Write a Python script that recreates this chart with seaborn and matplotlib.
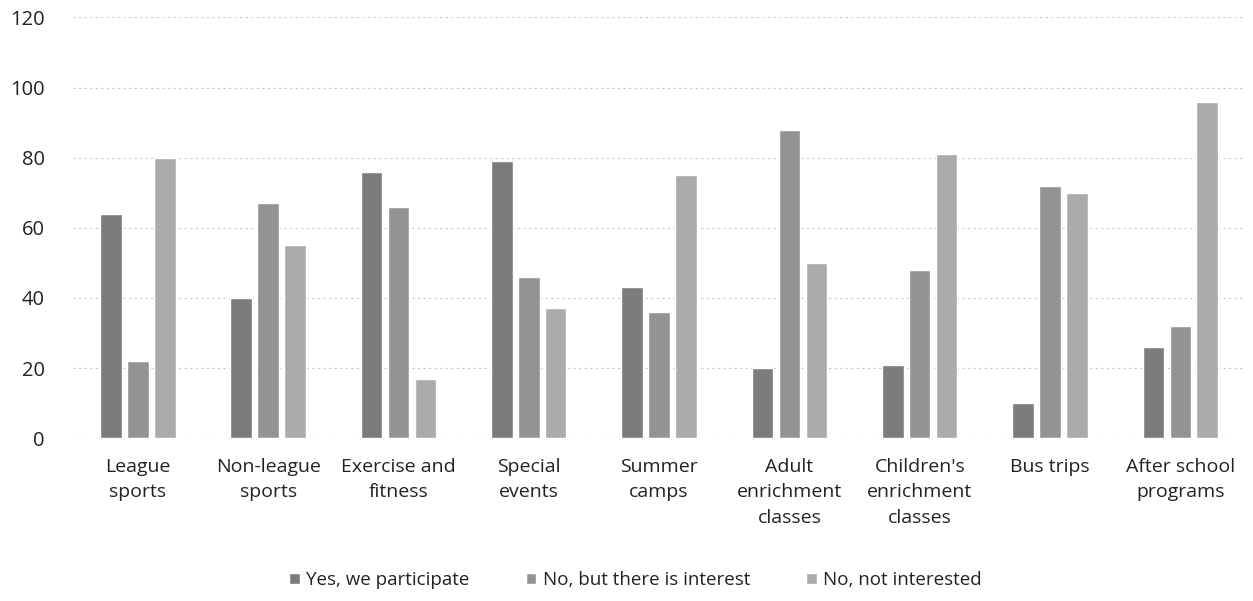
import matplotlib.pyplot as plt
import pandas as pd
import seaborn as sns

# Kategoriler ve seriler
categories = [
    "League\nsports",
    "Non-league\nsports",
    "Exercise and\nfitness",
    "Special\nevents",
    "Summer\ncamps",
    "Adult\nenrichment\nclasses",
    "Children's\nenrichment\nclasses",
    "Bus trips",
    "After school\nprograms",
]
series_names = ["Yes, we participate", "No, but there is interest", "No, not interested"]
yes_participate = [64, 40, 76, 79, 43, 20, 21, 10, 26]
interest = [22, 67, 66, 46, 36, 88, 48, 72, 32]
not_interested = [80, 55, 17, 37, 75, 50, 81, 70, 96]
y_ticks = [0, 20, 40, 60, 80, 100, 120]

colors = ["#7c7c7c", "#939393", "#ababab"]

df = pd.DataFrame({
    "category": categories * 3,
    "series": [series_names[0]] * 9 + [series_names[1]] * 9 + [series_names[2]] * 9,
    "value": yes_participate + interest + not_interested,
})

sns.set_theme(style="white")
plt.rcParams["font.family"] = ["Open Sans", "DejaVu Sans"]

fig = plt.figure(figsize=(12.53, 6.01), dpi=100)
ax = fig.add_axes([0.058, 0.271, 0.936, 0.70])

sns.barplot(
    data=df, x="category", y="value", hue="series",
    order=categories, hue_order=series_names,
    palette=colors, width=0.62, gap=0.2, ax=ax,
    saturation=1, legend=True,
)

ax.set_ylim(0, 120)
ax.set_yticks(y_ticks)
ax.set_xlim(-0.5, len(categories) - 0.5)
ax.set_xlabel("")
ax.set_ylabel("")
ax.yaxis.grid(True, color="#c8c8c8", linestyle=(0, (2, 3)), linewidth=0.8)
ax.set_axisbelow(True)
for s in ax.spines.values():
    s.set_visible(False)
ax.tick_params(axis="y", length=0, pad=20, labelsize=14.5, labelcolor="#222222")
ax.tick_params(axis="x", length=0, pad=14, labelsize=14, labelcolor="#222222")
for lbl in ax.get_yticklabels():
    lbl.set_horizontalalignment("right")
for lbl in ax.get_xticklabels():
    lbl.set_linespacing(1.55)

ax.legend(
    loc="center", bbox_to_anchor=(0.48, -0.338), ncol=3, frameon=False,
    fontsize=13.5, handlelength=0.55, handleheight=0.55, columnspacing=3.0,
    handletextpad=0.35, labelcolor="#222222",
)

plt.savefig("out.png", dpi=100)
plt.close()
